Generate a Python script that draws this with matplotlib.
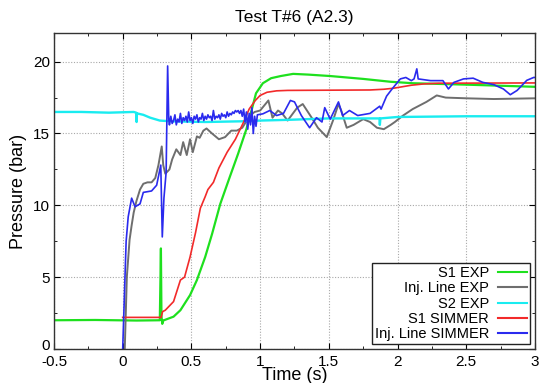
import matplotlib
matplotlib.use("Agg")
import matplotlib.pyplot as plt
from matplotlib.ticker import MultipleLocator
from matplotlib.transforms import ScaledTranslation

plt.rcParams['font.family'] = ['Liberation Sans', 'DejaVu Sans']

# ---------------- data ----------------
s1_exp_t = [-0.5, -0.2, 0.1, 0.27, 0.278, 0.282, 0.288, 0.295, 0.30, 0.37, 0.42,
            0.49, 0.54, 0.60, 0.65, 0.71, 0.78, 0.84, 0.90, 0.94, 0.97, 1.02,
            1.08, 1.15, 1.24, 1.35, 1.51, 1.75, 1.95, 2.11, 2.5, 3.0]
s1_exp_p = [2.0, 2.02, 1.98, 2.0, 7.0, 2.3, 1.75, 2.0, 2.0, 2.25, 2.7,
            3.75, 4.8, 6.4, 8.0, 10.1, 12.0, 13.6, 15.3, 16.7, 17.8, 18.5,
            18.85, 19.0, 19.15, 19.1, 19.0, 18.8, 18.6, 18.5, 18.4, 18.25]

inj_exp_t = [0.015, 0.03, 0.05, 0.065, 0.08, 0.10, 0.126, 0.15, 0.18, 0.21,
             0.237, 0.26, 0.284, 0.295, 0.31, 0.34, 0.36, 0.39, 0.42, 0.44,
             0.466, 0.49, 0.51, 0.54, 0.56, 0.587, 0.61, 0.65, 0.70, 0.745,
             0.79, 0.83, 0.87, 0.926, 0.96, 1.0, 1.06, 1.09, 1.13, 1.16,
             1.2, 1.27, 1.31, 1.375, 1.42, 1.485, 1.53, 1.57, 1.59, 1.63,
             1.68, 1.75, 1.8, 1.85, 1.90, 1.95, 1.98, 2.04, 2.11, 2.21,
             2.285, 2.35, 2.5, 2.7, 3.0]
inj_exp_p = [0.0, 5.0, 7.6, 8.6, 9.5, 10.3, 11.1, 11.5, 11.6, 11.6,
             11.9, 12.8, 14.1, 12.8, 12.2, 12.5, 13.2, 13.9, 13.5, 14.4,
             13.5, 14.6, 13.7, 14.8, 14.7, 15.2, 15.35, 15.0, 14.6, 14.75,
             15.2, 15.2, 15.4, 16.25, 16.5, 16.6, 17.3, 16.1, 16.6, 16.4,
             15.9, 16.8, 17.05, 16.1, 15.4, 14.75, 15.9, 17.05, 16.6, 15.4,
             15.6, 16.0, 15.8, 15.4, 15.3, 15.6, 15.8, 16.25, 16.7, 17.2,
             17.65, 17.5, 17.45, 17.4, 17.45]

s2_exp_t = [-0.5, -0.3, -0.1, 0.08, 0.098, 0.101, 0.104, 0.15, 0.2, 0.27,
            0.35, 0.6, 0.87, 1.0, 1.2, 1.5, 1.868, 1.871, 1.875, 2.0, 2.5, 3.0]
s2_exp_p = [16.5, 16.5, 16.45, 16.5, 16.45, 15.8, 16.4, 16.3, 16.1, 15.9,
            15.85, 15.8, 15.85, 15.9, 15.95, 16.05, 16.05, 15.6, 16.05, 16.15, 16.2, 16.2]

s1_sim_t = [0.0, 0.28, 0.29, 0.31, 0.37, 0.42, 0.45, 0.49, 0.53, 0.565,
            0.60, 0.62, 0.66, 0.70, 0.76, 0.82, 0.88, 0.92, 0.965, 1.0,
            1.05, 1.12, 1.2, 1.8, 1.9, 1.97, 2.05, 2.1, 2.19, 2.3, 3.0]
s1_sim_p = [2.2, 2.2, 2.6, 2.7, 3.3, 4.8, 5.0, 6.4, 8.1, 9.8,
            10.6, 11.1, 11.6, 12.6, 13.7, 14.6, 15.8, 16.7, 17.3, 17.65,
            17.87, 17.97, 18.0, 18.03, 18.08, 18.15, 18.28, 18.36, 18.45, 18.5, 18.52]

inj_sim_t = [0.0, 0.01, 0.025, 0.04, 0.065, 0.09, 0.126, 0.15, 0.21, 0.247,
             0.277, 0.288, 0.30, 0.316, 0.327, 0.335,
             0.34, 0.35, 0.36, 0.37, 0.38, 0.39, 0.40, 0.41, 0.42, 0.43,
             0.44, 0.45, 0.46, 0.47, 0.48, 0.49, 0.50, 0.51, 0.52, 0.53,
             0.54, 0.55, 0.56, 0.57, 0.58, 0.59, 0.60, 0.61, 0.62, 0.63,
             0.64, 0.65, 0.66, 0.67, 0.68, 0.69, 0.70, 0.71, 0.72, 0.73,
             0.74, 0.75, 0.76, 0.77, 0.78, 0.79, 0.80, 0.81, 0.82, 0.83,
             0.84, 0.85, 0.86, 0.87, 0.88, 0.89, 0.90, 0.91, 0.92, 0.93,
             0.94, 0.95, 0.96, 0.97, 0.98,
             1.02, 1.07, 1.12, 1.17, 1.22, 1.25, 1.30, 1.36, 1.41, 1.45,
             1.47, 1.51, 1.57, 1.60, 1.65, 1.71, 1.80, 1.87, 1.88, 1.92,
             1.96, 2.02, 2.06, 2.10, 2.12, 2.14, 2.15, 2.24, 2.33, 2.37,
             2.41, 2.48, 2.55, 2.62, 2.70, 2.77, 2.82, 2.87, 2.94, 2.99, 3.0]
inj_sim_p = [0.0, 3.0, 7.5, 9.2, 10.5, 9.9, 10.1, 10.9, 11.0, 11.4,
             12.8, 7.8, 10.5, 12.3, 19.7, 16.0,
             15.6, 16.2, 15.7, 15.9, 16.3, 15.6, 16.0, 15.8, 16.4, 15.7,
             16.1, 15.9, 16.2, 15.8, 16.5, 15.9, 16.1, 15.7, 16.2, 16.0,
             16.3, 15.8, 16.1, 16.0, 16.4, 15.9, 16.2, 16.0, 16.3, 16.1,
             16.2, 15.9, 16.6, 16.0, 16.2, 16.1, 16.3, 16.0, 16.4, 16.2,
             16.3, 16.1, 16.5, 16.2, 16.4, 16.3, 16.5, 16.4, 16.6, 16.5,
             16.6, 16.4, 16.6, 16.2, 16.7, 15.8, 16.5, 15.3, 16.4, 15.6,
             16.8, 15.0, 16.2, 15.5, 16.3,
             16.37, 16.6, 16.25, 16.4, 17.3, 17.2, 16.25, 15.4, 16.1, 15.8,
             16.8, 16.0, 17.2, 16.25, 16.6, 16.25, 16.4, 16.9, 16.7, 17.6,
             18.1, 18.8, 18.9, 18.68, 18.8, 19.5, 18.8, 18.68, 18.68, 18.1,
             18.56, 18.8, 18.85, 18.56, 18.4, 18.1, 17.7, 18.0, 18.7, 18.9, 18.9]

labels = ["S1 EXP", "Inj. Line EXP", "S2 EXP", "S1 SIMMER", "Inj. Line SIMMER"]
colors = ["#1ee01e", "#6e6e6e", "#19ecf0", "#f22a2a", "#2a2aee"]

# ---------------- figure ----------------
fig = plt.figure(figsize=(5.42, 3.83), dpi=100)
ax = fig.add_axes([0.0996, 0.0888, 0.8875, 0.8252])

series = [(s1_exp_t, s1_exp_p), (inj_exp_t, inj_exp_p), (s2_exp_t, s2_exp_p),
          (s1_sim_t, s1_sim_p), (inj_sim_t, inj_sim_p)]
widths = [1.6, 1.4, 1.7, 1.2, 1.2]
for (t, p), lab, c, w in zip(series, labels, colors, widths):
    ax.plot(t, p, color=c, lw=w, label=lab)

ax.set_xlim(-0.5, 3.0)
ax.set_ylim(0, 22)
ax.xaxis.set_major_locator(MultipleLocator(0.5))
ax.xaxis.set_minor_locator(MultipleLocator(0.25))
ax.yaxis.set_major_locator(MultipleLocator(5))
ax.yaxis.set_minor_locator(MultipleLocator(2.5))
ax.set_xticks([-0.5, 0, 0.5, 1, 1.5, 2, 2.5, 3])
ax.set_xticklabels(["-0.5", "0", "0.5", "1", "1.5", "2", "2.5", "3"])
ax.set_yticks([0, 5, 10, 15, 20])
ax.tick_params(which='both', direction='in', top=True, right=True,
               labelsize=11)
ax.tick_params(axis='x', pad=4)
ax.tick_params(axis='y', pad=3)
ax.tick_params(which='major', length=4)
ax.tick_params(which='minor', length=2.5)
ax.grid(True, which='major', linestyle=(0, (1, 1.5)), color='#a8a8a8', lw=0.8)
for s in ax.spines.values():
    s.set_color('#333333')
    s.set_linewidth(1.0)

# lift the y "0" label slightly so it sits just above the "-0.5" x label
fig.canvas.draw()
ylab0 = ax.get_yticklabels()[0]
ylab0.set_transform(ylab0.get_transform() + ScaledTranslation(0, 3 / 72, fig.dpi_scale_trans))

ax.set_title("Test T#6 (A2.3)", fontsize=12.5, pad=8)
ax.set_xlabel("Time (s)", fontsize=13, labelpad=-1)
ax.set_ylabel("Pressure (bar)", fontsize=13, labelpad=4)

leg = ax.legend(loc='lower right', markerfirst=False, fancybox=False,
                edgecolor='#222222', framealpha=1, fontsize=10.5,
                borderaxespad=0.35, handlelength=2.0, labelspacing=0.08,
                borderpad=0.2, handletextpad=0.6)
leg.get_frame().set_linewidth(1.0)
for ln in leg.get_lines():
    ln.set_linewidth(1.5)

fig.savefig("out.png", dpi=100)
